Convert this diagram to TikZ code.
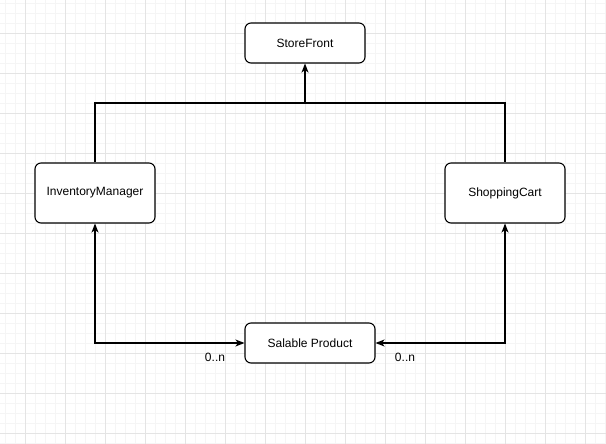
\documentclass[tikz,border=0pt]{standalone}
\usepackage{fontspec}
\setmainfont{Liberation Sans}
\usetikzlibrary{arrows.meta}
\definecolor{gridminor}{HTML}{F5F5F5}
\definecolor{gridmajor}{HTML}{E4E4E4}
\tikzset{
  cls/.style={draw=black, line width=1.1pt, rounded corners=6pt, fill=white,
    minimum width=120pt, minimum height=40pt, inner sep=0pt,
    font=\fontsize{12pt}{14pt}\selectfont},
  link/.style={draw=black, line width=1.1pt},
  tip/.style={-{Stealth[length=9pt,width=7pt,inset=2.5pt]}},
  bothtips/.style={{Stealth[length=9pt,width=7pt,inset=2.5pt]}-{Stealth[length=9pt,width=7pt,inset=2.5pt]}},
  mult/.style={font=\fontsize{12pt}{14pt}\selectfont, inner sep=0pt}
}
\begin{document}
\begin{tikzpicture}[x=1pt,y=-1pt]
  \useasboundingbox (0,0) rectangle (606,444);
  \fill[white] (0,0) rectangle (606,444);
  % background grid
  \foreach \gx in {5,15,...,605} \draw[gridminor, line width=0.9pt] (\gx,0) -- (\gx,444);
  \foreach \gy in {3,13,...,443} \draw[gridminor, line width=0.9pt] (0,\gy) -- (606,\gy);
  \foreach \gx in {25,65,...,605} \draw[gridmajor, line width=0.9pt] (\gx,0) -- (\gx,444);
  \foreach \gy in {33,73,...,443} \draw[gridmajor, line width=0.9pt] (0,\gy) -- (606,\gy);

  % classes
  \node[cls] (sf) at (305,43) {StoreFront};
  \node[cls, minimum height=60pt] (im) at (95,193) {InventoryManager};
  \node[cls, minimum height=60pt] (sc) at (505,193) {ShoppingCart};
  \node[cls, minimum width=130pt] (sp) at (310,343) {Salable Product};

  % inheritance-style bus up to StoreFront
  \coordinate (bus) at (305,103);
  \draw[link] (im.north) |- (bus) -| (sc.north);
  \draw[link, line width=1.6pt, tip] (bus) -- (sf.south);

  % associations with Salable Product
  \draw[link, bothtips] (im.south) |- (sp.west);
  \draw[link, bothtips] (sc.south) |- (sp.east);

  % multiplicities
  \node[mult] (m1) at (215,357) {0..n};
  \node[mult] (m2) at (405,357) {0..n};
\end{tikzpicture}
\end{document}
